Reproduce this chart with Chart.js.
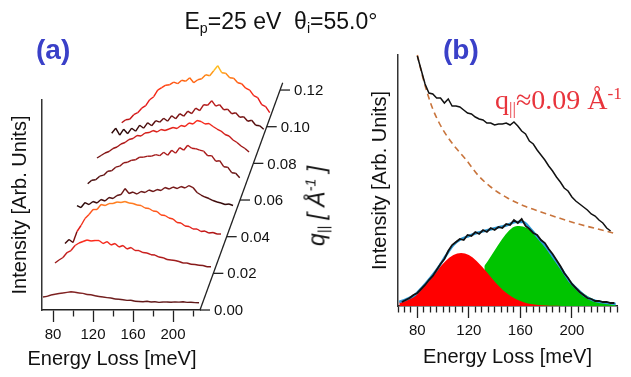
<!DOCTYPE html>
<html>

<head>
    <style>
        body {
            margin: 0;
            width: 631px;
            height: 377px;
            overflow: hidden;
            position: relative;
            background: #fff;
            font-family: "Liberation Sans", Arial, sans-serif;
            color: #111;
        }

        canvas {
            position: absolute;
            top: 0;
        }

        #chartA {
            left: 0;
        }

        #chartB {
            left: 330px;
        }

        .txt {
            position: absolute;
            white-space: nowrap;
            line-height: 1;
            z-index: 2;
        }

        .txt sub,
        .txt sup {
            line-height: 1;
            font-size: 0.62em;
        }

        #title {
            left: 281px;
            top: 10px;
            font-size: 23px;
            transform: translateX(-50%);
        }

        #title sub {
            vertical-align: -0.3em;
        }

        .panel {
            top: 36px;
            font-size: 28px;
            font-weight: bold;
            color: #3a40c8;
        }

        #qnote {
            left: 495px;
            top: 85px;
            font-family: "Liberation Serif", serif;
            font-size: 28px;
            color: #e8343c;
        }

        #qnote sup {
            vertical-align: 0.55em;
        }

        #qnote sub {
            vertical-align: -0.3em;
        }

        #qlabel {
            left: 317px;
            top: 206px;
            font-size: 23px;
            font-style: italic;
            transform: translate(-50%, -50%) rotate(-90deg);
        }

        #qlabel sup {
            vertical-align: 0.6em;
        }

        #qlabel sub {
            vertical-align: -0.3em;
        }

        #xtitleA {
            left: 112px;
            top: 348px;
            font-size: 20px;
            transform: translateX(-50%);
        }
    </style>
</head>

<body>
    <div id="title" class="txt">E<sub>p</sub>=25 eV&nbsp;&nbsp;θ<sub>i</sub>=55.0°</div>
    <div class="txt panel" style="left:36px">(a)</div>
    <div class="txt panel" style="left:443px">(b)</div>
    <div id="qnote" class="txt">q<sub>||</sub>≈0.09 Å<sup>-1</sup></div>
    <div id="qlabel" class="txt">q<sub>||</sub> [ Å<sup>-1</sup> ]</div>
    <div id="xtitleA" class="txt">Energy Loss [meV]</div>

    <canvas id="chartA" width="330" height="377"></canvas>
    <canvas id="chartB" width="301" height="377"></canvas>

    <script src="https://cdn.jsdelivr.net/npm/chart.js@4.4.1/dist/chart.umd.min.js"></script>
    <script>
        // ---- panel (a): waterfall of loss spectra vs q ----
        const energyA = [70, 74, 78, 82, 86, 90, 94, 98, 102, 106, 110, 114, 118, 122, 126, 130, 134, 138, 142, 146,
            150, 154, 158, 162, 166, 170, 174, 178, 182, 186, 190, 194, 198, 202, 206, 210, 214, 218, 222, 226];

        const qValues = [0, 0.018, 0.033, 0.051, 0.067, 0.081, 0.103, 0.118];
        const qTicks = [0, 0.02, 0.04, 0.06, 0.08, 0.10, 0.12];

        const trace0 = [13, 13.6, 15, 15.8, 16.5, 17, 17.6, 18.3, 17.8, 17, 16.6, 15.5, 15.2, 14.3, 13.5, 13, 12.4, 12, 11, 10.8,
            10.2, 9.6, 9.8, 8.8, 8.5, 8.3, 8.7, 8, 8.2, 7.6, 8, 8, 7.8, 8.1, 7.9, 8.3, 7.6, 7.7, 7.4, 7.2];
        const trace1 = [14, 17, 19.5, 24.5, 26.5, 31.5, 34, 35.5, 37, 36, 36.5, 36.5, 33.5, 35.5, 32, 33.5, 30, 31.5, 28, 29.5,
            26.5, 26.5, 24.5, 24, 22.3, 22, 20, 19.3, 17.5, 17, 16.5, 15.5, 14, 14, 12.8, 12.5, 11.8, 11.5, 10.3, 10.2];
        const trace2 = [6, 10, 7, 18, 24, 31, 35, 40, 40, 45, 44, 46, 46, 47.5, 47, 48, 46.5, 46, 44.5, 44,
            41.5, 41, 38.5, 38, 34.5, 34, 31.5, 30.5, 27, 26.5, 23.5, 23, 20.5, 20.5, 18, 18.5, 16.5, 17, 15.5, 15.5];
        const trace3 = [11, 9, 14, 12, 15, 13.5, 17, 15.5, 19, 18, 21, 22, 28, 23, 24.5, 22.5, 25, 24, 26.5, 25,
            27, 26, 29, 27.5, 29.5, 28, 30, 28.5, 31, 29, 24, 21.5, 19.5, 18, 16, 14.5, 13.5, 12, 12.5, 11];
        const trace4 = [3.5, 7, 7.5, 11, 12, 16, 16.5, 20, 21, 24.5, 25, 27, 27.5, 30, 30, 31, 31, 32.5, 31.5, 35,
            32, 37, 34, 39.5, 37, 42, 39, 38.5, 37, 36, 31.5, 31.5, 26, 26.5, 20.5, 20, 14.5, 14, 9.5];
        const trace5 = [3.5, 6, 8.5, 10, 13, 14.5, 17.5, 19, 22, 23, 26, 25.5, 28.5, 29, 31, 29.5, 32, 31, 32.5, 34,
            33, 36, 35, 38.5, 37.5, 41, 40, 37.5, 38, 35, 32.5, 30.5, 27, 25.5, 21.5, 19, 15.5, 13, 9.5];
        const trace6 = [-12, -7, -14, -8, -12.5, -7, -10, -4, -7, -1.5, -4.5, 0.5, -1, 3, 0, 5.5, 2.5, 7.5, 5, 10,
            7.5, 13, 10.5, 16.5, 16, 20.5, 15, 16.5, 11.5, 12, 7.5, 8.5, 4, 4.5, 0, 1, -4, -4.5, -8];
        const trace7 = [-29, -26, -25.5, -21, -19, -14.5, -12, -6, -3, 3.5, 6, 8.5, 9, 11.5, 10, 13.5, 12.5, 16, 11, 14,
            15, 19, 18, 23, 28, 21, 20.5, 16, 15.5, 11, 10, 5.5, 3.5, -2, -4, -11, -13, -19];
        const tracesA = [trace0, trace1, trace2, trace3, trace4, trace5, trace6, trace7];

        // colour ramps (low -> high intensity) for each trace
        const traceRamps = [
            ['#5e1818', '#842222'],
            ['#7a1818', '#c81c1c', '#ff2a1a'],
            ['#220404', '#e01818', '#ff4418', '#ff8420'],
            ['#1e0404', '#5a1010', '#7e1a1a'],
            ['#3a0808', '#8a1616', '#c01a1a'],
            ['#6a1010', '#c01818', '#ff2a1a'],
            ['#180303', '#701010', '#cc1c1c'],
            ['#b01010', '#e01818', '#e81818', '#ff3010', '#ff7a10', '#ffd020']
        ];

        // waterfall offsets: meV and intensity units per 1 Å^-1 of q
        const QX = 667;
        const QY = 1833;
        const E_MIN_A = 69;
        const E_MAX_A = 227;
        const Q_AXIS_END = 0.124;

        function hexToRgb(hex) {
            const n = parseInt(hex.slice(1), 16);
            return [(n >> 16) & 255, (n >> 8) & 255, n & 255];
        }

        function rampColor(stops, t) {
            t = Math.min(1, Math.max(0, t));
            const pos = t * (stops.length - 1);
            const i = Math.min(stops.length - 2, Math.floor(pos));
            const f = pos - i;
            const a = hexToRgb(stops[i]);
            const b = hexToRgb(stops[i + 1]);
            const c = a.map((v, k) => Math.round(v + (b[k] - v) * f));
            return `rgb(${c[0]},${c[1]},${c[2]})`;
        }

        const datasetsA = tracesA.map((trace, k) => {
            const q = qValues[k];
            const lo = Math.min(...trace);
            const hi = Math.max(...trace);
            return {
                xAxisID: 'xw',
                data: trace.map((v, i) => ({ x: energyA[i] + QX * q, y: v + QY * q })),
                borderWidth: 1.4,
                pointRadius: 0,
                tension: 0,
                clip: false,
                borderColor: traceRamps[k][0],
                segment: {
                    borderColor: ctx => {
                        const v = (trace[ctx.p0DataIndex] + trace[ctx.p1DataIndex]) / 2;
                        return rampColor(traceRamps[k], (v - lo) / (hi - lo));
                    }
                }
            };
        });

        const qAxisPlugin = {
            id: 'qAxis',
            afterDraw(chart) {
                const { ctx, scales: { x, y } } = chart;
                const px = q => x.getPixelForValue(E_MAX_A + QX * q);
                const py = q => y.getPixelForValue(QY * q);
                ctx.save();
                ctx.strokeStyle = '#222';
                ctx.lineWidth = 1.3;
                ctx.beginPath();
                ctx.moveTo(px(0), py(0));
                ctx.lineTo(px(Q_AXIS_END), py(Q_AXIS_END));
                ctx.stroke();
                ctx.font = '15px "Liberation Sans"';
                ctx.fillStyle = '#111';
                ctx.textBaseline = 'middle';
                qTicks.forEach(q => {
                    ctx.beginPath();
                    ctx.moveTo(px(q), py(q));
                    ctx.lineTo(px(q) + 10, py(q));
                    ctx.stroke();
                    ctx.fillText(q.toFixed(2), px(q) + 14, py(q) + 1);
                });
                ctx.restore();
            }
        };

        // ---- panel (b): spectrum with background and two-peak fit ----
        const energyTop = [80, 83, 86, 89, 92, 95, 98, 101, 104, 107, 110, 113, 116, 119, 122, 125, 128, 131, 134, 137,
            140, 143, 146, 149, 152, 155, 158, 161, 164, 167, 170, 173, 176, 179, 182, 185, 188, 191, 194, 197,
            200, 203, 206, 209, 212, 215, 218, 221, 224, 227, 230];
        const rawSpectrum = [250, 236, 222, 213, 212, 208, 208, 203, 207, 200, 200, 199, 196, 193, 192, 189, 187, 186, 183, 183,
            181, 182, 182, 183, 181, 184, 180, 175, 172, 165, 162, 156, 151, 146, 140, 135, 129, 124, 118, 115,
            109, 105, 102, 99, 96, 92, 90, 86, 83, 78, 75];

        const energyBg = [80, 84, 88, 92, 97, 103, 110, 118, 127, 137, 150, 163, 176, 190, 205, 220, 232];
        const background = [251, 230, 212, 197, 183, 170, 158, 146, 131, 119, 108, 100, 94, 88, 82, 77, 73];

        const energyLow = [68, 71, 74, 77, 80, 83, 86, 89, 92, 95, 98, 101, 104, 107, 110, 113, 116, 119, 122, 125,
            128, 131, 134, 137, 140, 143, 146, 149, 152, 155, 158, 161, 164, 167, 170, 173, 176, 179, 182, 185,
            188, 191, 194, 197, 200, 203, 206, 209, 212, 215, 218, 221, 224, 227, 230, 233];
        const subtracted = [4, 6, 8, 11, 13, 17, 21, 26, 30, 36, 42, 47, 55, 61, 64, 67, 66, 71, 70, 74,
            72, 76, 74, 78, 76, 79, 78, 82, 81, 86, 83, 87, 80, 77, 73, 71, 66, 63, 57, 52,
            46, 40, 33, 28, 22, 18, 14, 11, 8, 7, 5, 5, 4, 4, 3, 3];

        const energyFit = [66, 72, 78, 84, 90, 96, 102, 108, 114, 120, 126, 132, 138, 144, 150, 156, 162, 168, 174, 180,
            186, 192, 198, 204, 210, 216, 222, 228, 234];
        const fitSum = [4, 7, 11, 19, 28, 38, 50, 61, 67, 70, 73, 75, 77, 79, 81, 84, 84, 77, 68, 59,
            48, 37, 25, 17, 10, 6, 4, 3, 2];
        const peakLow = [3.9, 7.2, 12.2, 19.1, 27.6, 36.7, 45.0, 50.9, 53, 50.9, 45.0, 36.7, 27.6, 19.1, 12.2, 7.2, 3.9, 1.9, 0.9, 0.4,
            0.2, 0.1, 0, 0, 0, 0, 0, 0, 0];

        const energyHigh = [132, 154, 159, 165, 171, 177, 183, 189, 195, 201, 207, 213, 219, 225, 231, 234];
        const peakHigh = [40, 78.5, 80, 77.9, 71.9, 63.0, 52.2, 41.1, 30.7, 21.7, 14.6, 9.3, 5.6, 3.2, 1.7, 1.2];

        const toXY = (xs, ys) => ys.map((v, i) => ({ x: xs[i], y: v }));

        const datasetsB = [
            {
                data: toXY(energyHigh, peakHigh),
                fill: 'origin',
                backgroundColor: '#00c400',
                borderColor: '#00c400',
                borderWidth: 0,
                cubicInterpolationMode: 'monotone',
                order: 6
            },
            {
                data: toXY(energyFit, peakLow),
                fill: 'origin',
                backgroundColor: '#ff0000',
                borderColor: '#ff0000',
                borderWidth: 0,
                cubicInterpolationMode: 'monotone',
                order: 5
            },
            {
                data: toXY(energyFit, fitSum),
                borderColor: '#2b9ad8',
                borderWidth: 2.5,
                cubicInterpolationMode: 'monotone',
                order: 4
            },
            {
                data: toXY(energyBg, background),
                borderColor: '#c8743c',
                borderWidth: 1.6,
                borderDash: [6, 4],
                cubicInterpolationMode: 'monotone',
                order: 3
            },
            {
                data: toXY(energyLow, subtracted),
                borderColor: '#111',
                borderWidth: 1.8,
                order: 2
            },
            {
                data: toXY(energyTop, rawSpectrum),
                borderColor: '#111',
                borderWidth: 1.5,
                order: 1
            }
        ].map(d => Object.assign({ pointRadius: 0, clip: false, tension: 0 }, d));

        // ---- shared axis helpers ----
        const axisFont = { family: 'Liberation Sans', size: 20 };
        const tickFont = { family: 'Liberation Sans', size: 15 };

        function bottomAxis(min, max, step, height, showTitle) {
            return {
                type: 'linear',
                min: min,
                max: max,
                afterFit: scale => { scale.height = height; },
                border: { display: true, color: '#222', width: 1.5 },
                grid: {
                    display: true,
                    drawOnChartArea: false,
                    drawTicks: true,
                    tickLength: 12,
                    tickColor: '#222',
                    tickWidth: 1.3,
                    tickBorderDash: ctx => (ctx.tick && ctx.tick.value % 40 === 0) ? [12, 40] : [6, 40]
                },
                ticks: {
                    stepSize: step,
                    autoSkip: false,
                    includeBounds: false,
                    maxRotation: 0,
                    padding: 4,
                    color: '#111',
                    font: tickFont,
                    callback: v => (v % 40 === 0 ? String(v) : '')
                },
                title: {
                    display: showTitle,
                    text: 'Energy Loss [meV]',
                    color: '#111',
                    font: axisFont,
                    padding: { top: 0, bottom: 8 }
                }
            };
        }

        function leftAxis(max, width, titlePad) {
            return {
                type: 'linear',
                min: 0,
                max: max,
                afterFit: scale => { scale.width = width; },
                border: { display: true, color: '#333', width: 1.5 },
                grid: { display: false },
                ticks: { display: false },
                title: {
                    display: true,
                    text: 'Intensity [Arb. Units]',
                    color: '#111',
                    font: axisFont,
                    padding: { top: titlePad, bottom: 0 }
                }
            };
        }

        const common = {
            responsive: false,
            animation: false,
            plugins: { legend: { display: false }, tooltip: { enabled: false } }
        };

        new Chart(document.getElementById('chartA'), {
            type: 'line',
            data: { datasets: datasetsA },
            options: Object.assign({}, common, {
                layout: { padding: { top: 100, right: 130, bottom: 0, left: 0 } },
                scales: {
                    x: bottomAxis(E_MIN_A, E_MAX_A, 20, 67, false),
                    // hidden twin of x without user bounds, so the shifted traces are drawn in full
                    xw: {
                        type: 'linear',
                        display: false,
                        bounds: 'data',
                        afterDataLimits: scale => { scale.min = E_MIN_A; scale.max = E_MAX_A; }
                    },
                    y: leftAxis(210, 42, 8)
                }
            }),
            plugins: [qAxisPlugin]
        });

        new Chart(document.getElementById('chartB'), {
            type: 'line',
            data: { datasets: datasetsB },
            options: Object.assign({}, common, {
                layout: { padding: { top: 55, right: 14, bottom: 0, left: 0 } },
                scales: {
                    x: bottomAxis(65, 235, 5, 71, true),
                    y: leftAxis(251, 68, 38)
                }
            })
        });
    </script>
</body>

</html>
